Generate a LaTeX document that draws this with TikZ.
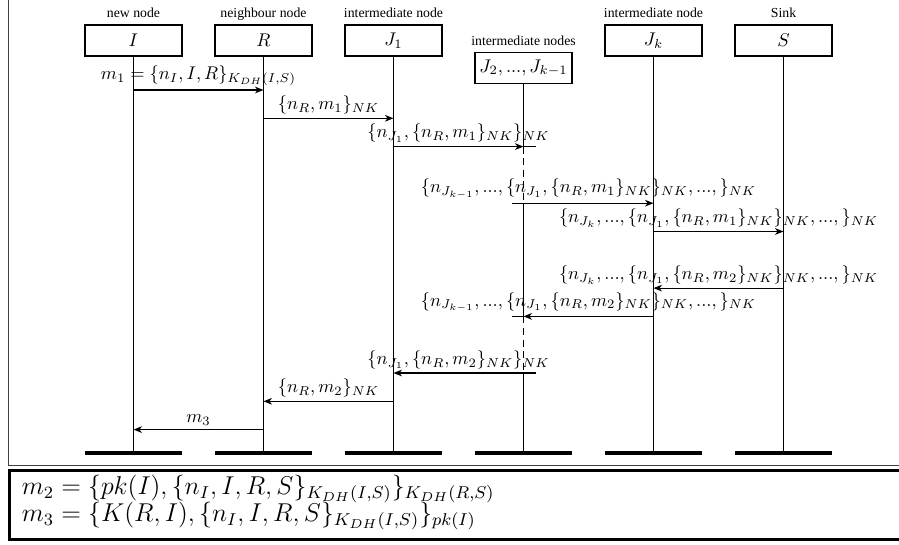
\documentclass[tikz,border=0pt]{standalone}
\usepackage{graphicx}
\usepackage[no-math]{fontspec}
\setmainfont{Liberation Serif}
\usetikzlibrary{arrows.meta}
\begin{document}
\begin{tikzpicture}[x=0.5445pt,y=-0.5445pt,
  lifebox/.style={draw, line width=0.63pt, minimum width=52.8pt, minimum height=16.9pt, inner sep=0pt},
  toplbl/.style={font=\fontsize{7.5}{9}\selectfont, anchor=base, inner sep=0pt},
  life/.style={line width=0.63pt},
  dashlife/.style={line width=0.63pt, dash pattern=on 3.8pt off 2.5pt},
  msg/.style={line width=0.58pt, -{Stealth[length=4.6pt,width=3.6pt,inset=1.35pt]}},
  ext/.style={line width=0.58pt},
  msglbl/.style={above, inner sep=1.9pt, midway},
  endbar/.style={fill=black, draw=none, minimum width=52.8pt, minimum height=2.5pt, inner sep=0pt},
  frameline/.style={line width=0.58pt, draw=black!75},
  notebox/.style={line width=1.55pt, draw=black},
  notetext/.style={anchor=base west, inner sep=0pt, font=\fontsize{12}{14}\selectfont}]
\useasboundingbox (0,0) rectangle (899,544);
\clip (0,0) rectangle (899,544);

% frames
\draw[frameline] (8.5,-20) rectangle (920,465.5);
\draw[notebox] (9.5,470.5) rectangle (920,539.5);

% participant boxes
\node[lifebox] (bI) at (133.5,40.5) {$I$};
\node[lifebox] (bR) at (263.5,40.5) {$R$};
\node[lifebox] (bJa) at (393.5,40.5) {$J_1$};
\node[lifebox] (bJm) at (523.5,68) {$J_2, ..., J_{k-1}$};
\node[lifebox] (bJk) at (653.5,40.5) {$J_k$};
\node[lifebox] (bS) at (783.5,40.5) {$S$};

% participant labels
\node[toplbl] (tI) at ([yshift=3.5pt]bI.north) {new node};
\node[toplbl] (tR) at ([yshift=3.5pt]bR.north) {neighbour node};
\node[toplbl] (tJa) at ([yshift=3.5pt]bJa.north) {intermediate node};
\node[toplbl] (tJm) at ([yshift=3.5pt]bJm.north) {intermediate nodes};
\node[toplbl] (tJk) at ([yshift=3.5pt]bJk.north) {intermediate node};
\node[toplbl] (tS) at ([yshift=3.5pt]bS.north) {Sink};

% end bars
\foreach \n/\x in {I/133.5,R/263.5,Ja/393.5,Jm/523.5,Jk/653.5,S/783.5}{
  \node[endbar] (bar\n) at (\x,453) {};
}

% message coordinates
\foreach \k in {0,...,12}{
  \foreach \n/\x in {I/133.5,R/263.5,Ja/393.5,Jm/523.5,Jk/653.5,S/783.5,Jml/511.5,Jmr/535.5}{
    \coordinate (\n-\k) at (\x,{90+28.3*\k});
  }
}

% lifelines
\draw[life] (bI.south) -- (barI.center);
\draw[life] (bR.south) -- (barR.center);
\draw[life] (bJa.south) -- (barJa.center);
\draw[life] (bJk.south) -- (barJk.center);
\draw[life] (bS.south) -- (barS.center);
\draw[life] (bJm.south) -- (Jm-2);
\draw[dashlife] (Jm-2) -- (Jm-4);
\draw[life] (Jm-4) -- (Jm-8);
\draw[dashlife] (Jm-8) -- (Jm-10);
\draw[life] (Jm-10) -- (barJm.center);

% messages
\draw[msg] (I-0) -- node[msglbl] (l1) {$m_1 = \{n_I, I, R\}_{K_{DH}(I,S)}$} (R-0);
\draw[msg] (R-1) -- node[msglbl] (l2) {$\{n_R, m_1\}_{NK}$} (Ja-1);
\draw[msg] (Ja-2) -- node[msglbl] (l3) {$\{n_{J_1}, \{n_R, m_1\}_{NK}\}_{NK}$} (Jm-2);
\draw[ext] (Jm-2) -- (Jmr-2);
\draw[ext] (Jml-4) -- (Jm-4);
\draw[msg] (Jm-4) -- node[msglbl] (l4) {$\{n_{J_{k-1}}, ..., \{n_{J_1}, \{n_R, m_1\}_{NK}\}_{NK}, ..., \}_{NK}$} (Jk-4);
\draw[msg] (Jk-5) -- node[msglbl] (l5) {$\{n_{J_k}, ..., \{n_{J_1}, \{n_R, m_1\}_{NK}\}_{NK}, ..., \}_{NK}$} (S-5);
\draw[msg] (S-7) -- node[msglbl] (l6) {$\{n_{J_k}, ..., \{n_{J_1}, \{n_R, m_2\}_{NK}\}_{NK}, ..., \}_{NK}$} (Jk-7);
\draw[msg] (Jk-8) -- node[msglbl] (l7) {$\{n_{J_{k-1}}, ..., \{n_{J_1}, \{n_R, m_2\}_{NK}\}_{NK}, ..., \}_{NK}$} (Jm-8);
\draw[ext] (Jm-8) -- (Jml-8);
\draw[ext] (Jmr-10) -- (Jm-10);
\draw[msg] (Jm-10) -- node[msglbl] (l8) {$\{n_{J_1}, \{n_R, m_2\}_{NK}\}_{NK}$} (Ja-10);
\draw[msg] (Ja-11) -- node[msglbl] (l9) {$\{n_R, m_2\}_{NK}$} (R-11);
\draw[msg] (R-12) -- node[msglbl] (l10) {$m_3$} (I-12);

% notes
\node[notetext] (nm2) at (21.5,494.5) {\scalebox{1.17}{$m_2 = \{pk(I), \{n_I, I, R, S\}_{K_{DH}(I,S)}\}_{K_{DH}(R,S)}$}};
\node[notetext] (nm3) at (21.5,521.5) {\scalebox{1.17}{$m_3 = \{K(R,I), \{n_I, I, R, S\}_{K_{DH}(I,S)}\}_{pk(I)}$}};
\end{tikzpicture}
\end{document}
